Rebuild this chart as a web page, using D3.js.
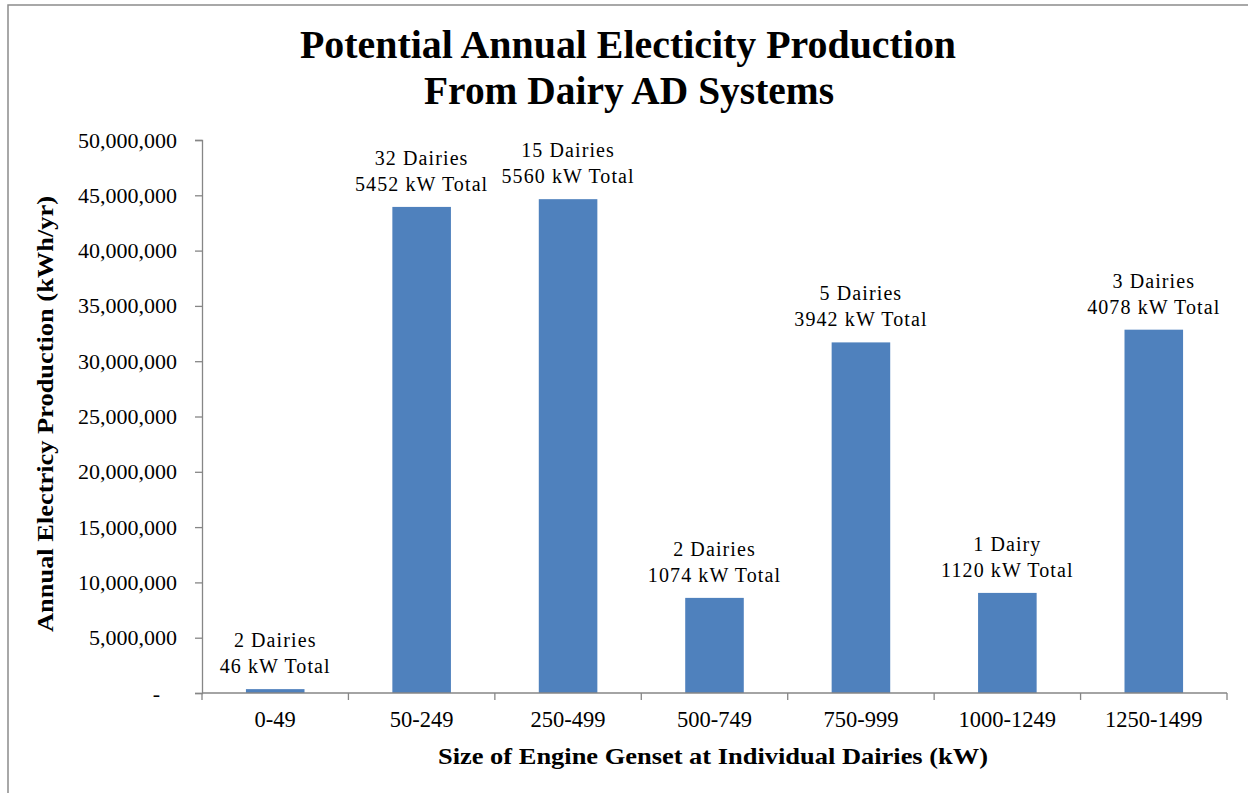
<!DOCTYPE html>
<html>
<head>
<meta charset="utf-8">
<script src="https://cdn.jsdelivr.net/npm/d3@7"></script>
<style>
  html, body { margin: 0; padding: 0; background: #fff; }
  svg { display: block; }
</style>
</head>
<body>
<svg id="chart" width="1248" height="793"></svg>
<script>
// Genset size classes and estimated annual output (kWh/yr)
const categories = ["0-49", "50-249", "250-499", "500-749", "750-999", "1000-1249", "1250-1499"];
const production = [350000, 43950000, 44650000, 8600000, 31700000, 9050000, 32850000];
const dairyLabels = ["2 Dairies", "32 Dairies", "15 Dairies", "2 Dairies", "5 Dairies", "1 Dairy", "3 Dairies"];
const kwLabels = ["46 kW Total", "5452 kW Total", "5560 kW Total", "1074 kW Total", "3942 kW Total", "1120 kW Total", "4078 kW Total"];
const yTicks = [0, 5000000, 10000000, 15000000, 20000000, 25000000, 30000000, 35000000, 40000000, 45000000, 50000000];

const titleLines = ["Potential Annual  Electicity Production", "From Dairy AD Systems"];
const yTitle = "Annual Electricy  Production (kWh/yr)";
const xTitle = "Size of Engine Genset at Individual Dairies (kW)";

const svg = d3.select("#chart");
const serif = "'Liberation Serif', 'Times New Roman', serif";
const axisColor = "#868686";
const barColor = "#4F81BD";

const plot = { left: 202, right: 1227, top: 140, bottom: 693 };

// chart frame
svg.append("rect")
  .attr("x", 8).attr("y", 5)
  .attr("width", 1260).attr("height", 800)
  .attr("fill", "none").attr("stroke", "#8c8c8c").attr("stroke-width", 1.5);

const x = d3.scaleBand().domain(categories).range([plot.left, plot.right]).paddingInner(0.6).paddingOuter(0.3);
const xOuter = d3.scaleBand().domain(categories).range([plot.left, plot.right]);
const y = d3.scaleLinear().domain([0, 50000000]).range([plot.bottom, plot.top]);

// y axis
const yAxis = svg.append("g")
  .attr("transform", `translate(${plot.left},0)`)
  .call(d3.axisLeft(y).tickValues(yTicks).tickSize(7).tickPadding(18)
    .tickFormat(d => d === 0 ? "-" : d3.format(",")(d)));
yAxis.select(".domain").attr("stroke", axisColor).attr("stroke-width", 1.3);
yAxis.selectAll(".tick line").attr("stroke", axisColor).attr("stroke-width", 1.3);
yAxis.selectAll(".tick text")
  .attr("font-family", serif).attr("font-size", 22).attr("fill", "#000")
  .attr("dx", d => d === 0 ? -17 : 0);

// bars
svg.append("g").selectAll("rect")
  .data(categories)
  .join("rect")
  .attr("x", d => x(d))
  .attr("width", x.bandwidth())
  .attr("y", (d, i) => y(production[i]))
  .attr("height", (d, i) => plot.bottom - y(production[i]))
  .attr("fill", barColor);

// x axis line and boundary ticks
const xg = svg.append("g");
xg.append("line")
  .attr("x1", plot.left).attr("x2", plot.right)
  .attr("y1", plot.bottom).attr("y2", plot.bottom)
  .attr("stroke", axisColor).attr("stroke-width", 1.3);
const bounds = categories.map(c => xOuter(c)).concat([plot.right]);
xg.selectAll("line.tk")
  .data(bounds)
  .join("line").attr("class", "tk")
  .attr("x1", d => d).attr("x2", d => d)
  .attr("y1", plot.bottom).attr("y2", plot.bottom + 7)
  .attr("stroke", axisColor).attr("stroke-width", 1.3);
xg.selectAll("text")
  .data(categories)
  .join("text")
  .attr("x", d => xOuter(d) + xOuter.bandwidth() / 2)
  .attr("y", 727)
  .attr("text-anchor", "middle")
  .attr("font-family", serif).attr("font-size", 22.5).attr("fill", "#000")
  .text(d => d);

// value annotations above bars
const ann = svg.append("g").attr("font-family", serif).attr("font-size", 20).attr("fill", "#000").attr("text-anchor", "middle");
categories.forEach((c, i) => {
  const cx = x(c) + x.bandwidth() / 2;
  const top = y(production[i]);
  ann.append("text").attr("x", cx).attr("y", top - 42).attr("letter-spacing", 1.1).text(dairyLabels[i]);
  ann.append("text").attr("x", cx).attr("y", top - 16).attr("letter-spacing", 1.1).text(kwLabels[i]);
});

// title
const title = svg.append("g").attr("font-family", serif).attr("font-weight", "bold").attr("font-size", 40).attr("text-anchor", "middle");
title.append("text").attr("x", 628).attr("y", 58).attr("textLength", 656).attr("lengthAdjust", "spacingAndGlyphs").text(titleLines[0]);
title.append("text").attr("x", 629).attr("y", 104).attr("textLength", 410).attr("lengthAdjust", "spacingAndGlyphs").text(titleLines[1]);

// axis titles
svg.append("text")
  .attr("transform", "translate(53,414) rotate(-90)")
  .attr("text-anchor", "middle")
  .attr("font-family", serif).attr("font-weight", "bold").attr("font-size", 24)
  .attr("textLength", 436).attr("lengthAdjust", "spacingAndGlyphs")
  .text(yTitle);

svg.append("text")
  .attr("x", 713).attr("y", 764)
  .attr("text-anchor", "middle")
  .attr("font-family", serif).attr("font-weight", "bold").attr("font-size", 24)
  .attr("textLength", 550).attr("lengthAdjust", "spacingAndGlyphs")
  .text(xTitle);
</script>
</body>
</html>
